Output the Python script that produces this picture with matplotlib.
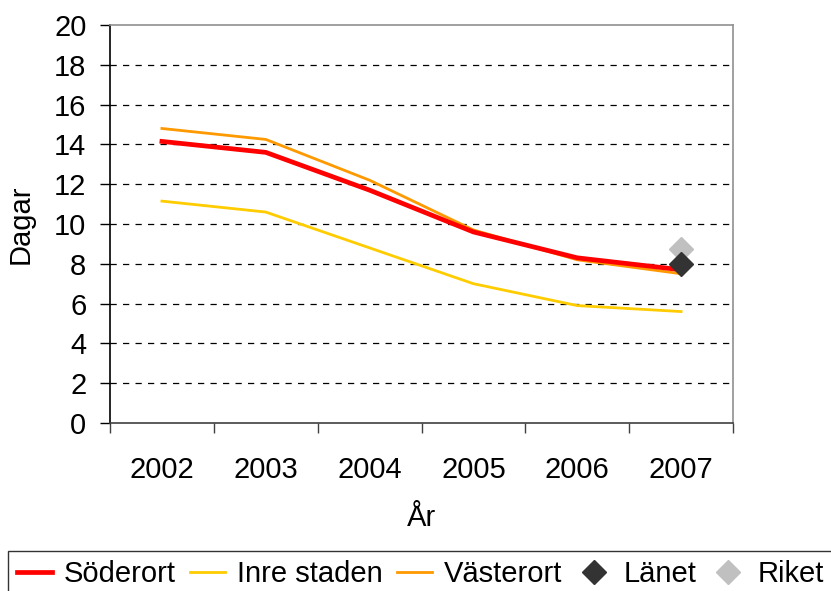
import matplotlib.pyplot as plt
from matplotlib.ticker import FixedLocator

plt.rcParams['font.family'] = ['Liberation Sans', 'DejaVu Sans']

years = ['2002', '2003', '2004', '2005', '2006', '2007']
soderort = [14.15, 13.6, 11.7, 9.6, 8.3, 7.7]
inre_staden = [11.15, 10.6, 8.8, 7.0, 5.9, 5.6]
vasterort = [14.8, 14.25, 12.2, 9.7, 8.2, 7.5]
lanet = [8.0]
riket = [8.75]

x = list(range(len(years)))

fig = plt.figure(figsize=(8.31, 5.91), dpi=100)
ax = fig.add_axes([110 / 831, 1 - 423 / 591, (733 - 110) / 831, (423 - 25) / 591])

ax.plot(x, soderort, color='#FF0000', lw=3.4, label='Söderort', zorder=4)
ax.plot(x, inre_staden, color='#FFCC00', lw=2.0, label='Inre staden', zorder=3)
ax.plot(x, vasterort, color='#FF9900', lw=2.0, label='Västerort', zorder=3)
ax.plot([x[-1]], riket, ls='none', marker='D', ms=12, color='#C0C0C0',
        label='Riket', zorder=5)
ax.plot([x[-1]], lanet, ls='none', marker='D', ms=12, color='#333333',
        label='Länet', zorder=6)

ax.set_xlim(-0.5, 5.5)
ax.set_ylim(0, 20)
ax.set_yticks(range(0, 21, 2))
ax.set_xticks(x)
ax.set_xticklabels(years)
ax.xaxis.set_minor_locator(FixedLocator([i - 0.5 for i in range(len(years) + 1)]))
ax.tick_params(axis='x', which='major', length=0, pad=24, labelsize=21)
ax.tick_params(axis='x', which='minor', length=7, width=1, direction='out', color='#404040')
ax.tick_params(axis='y', length=7, width=1, direction='out', pad=10, labelsize=21)

for v in range(2, 20, 2):
    ax.axhline(v, color='black', lw=0.9, ls=(0, (5, 5)), zorder=1)

ax.spines['left'].set_color('black')
ax.spines['bottom'].set_color('#404040')
ax.spines['top'].set_color('#909090')
ax.spines['right'].set_color('#909090')
for s in ax.spines.values():
    s.set_linewidth(1.2)

ax.set_ylabel('Dagar', fontsize=21, labelpad=14)
ax.set_xlabel('År', fontsize=21, labelpad=14)

h, l = ax.get_legend_handles_labels()
order = [0, 1, 2, 4, 3]
leg = fig.legend([h[i] for i in order], [l[i] for i in order],
                 loc='upper left', bbox_to_anchor=(8 / 831, 1 - 551 / 591),
                 ncol=5, fontsize=21, frameon=True, fancybox=False,
                 edgecolor='black', handlelength=1.2, handletextpad=0.4,
                 columnspacing=0.5, borderpad=0.3, borderaxespad=0)
leg.get_frame().set_linewidth(1.0)

fig.savefig('out.png', dpi=100)
